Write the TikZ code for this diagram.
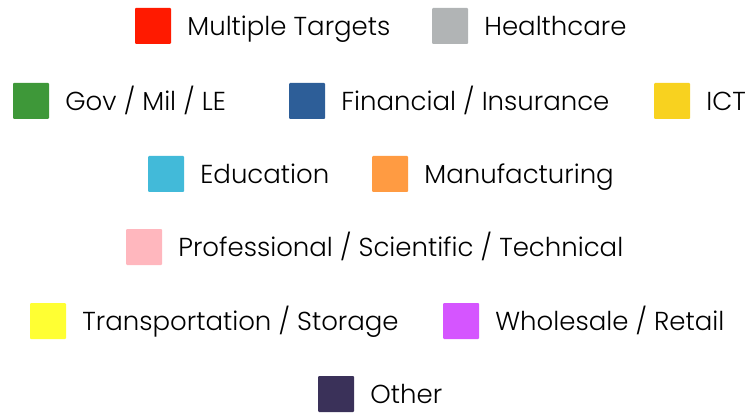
\documentclass[tikz,border=0pt]{standalone}
\usepackage{fontspec}
\setmainfont{Poppins Light}
\usetikzlibrary{positioning}
\definecolor{multi}{HTML}{FF1A00}
\definecolor{health}{HTML}{B1B4B5}
\definecolor{gov}{HTML}{3E9839}
\definecolor{fin}{HTML}{2D5E98}
\definecolor{ict}{HTML}{F8D21F}
\definecolor{edu}{HTML}{42BAD9}
\definecolor{manu}{HTML}{FF9B42}
\definecolor{prof}{HTML}{FFB7BE}
\definecolor{trans}{HTML}{FFFF33}
\definecolor{retail}{HTML}{D555FF}
\definecolor{other}{HTML}{3A3159}
\tikzset
{
    swatch/.style = {minimum size=36pt, inner sep=0pt, rounded corners=1pt},
    entry/.style  = {anchor=west, inner sep=0pt, text height=19pt, text depth=0pt,
                     font=\fontsize{26}{26}\selectfont, text=black}
}

\begin{document}
\begin{tikzpicture}[x=1pt, y=-1pt]
    \useasboundingbox (0,0) rectangle (752,414);
    % row 1
    \node [swatch, fill=multi] (multiple) at (153,26) {};
    \node [entry, right=16pt of multiple] (multiplelabel) {Multiple Targets};
    \node [swatch, fill=health] (health) at (450,26) {};
    \node [entry, right=16pt of health] (healthlabel) {Healthcare};
    % row 2
    \node [swatch, fill=gov] (gov) at (31,101) {};
    \node [entry, right=16pt of gov] (govlabel) {Gov / Mil / LE};
    \node [swatch, fill=fin] (fin) at (307,101) {};
    \node [entry, right=16pt of fin] (finlabel) {Financial / Insurance};
    \node [swatch, fill=ict] (ict) at (672,101) {};
    \node [entry, right=16pt of ict] (ictlabel) {ICT};
    % row 3
    \node [swatch, fill=edu] (edu) at (166,174) {};
    \node [entry, right=16pt of edu] (edulabel) {Education};
    \node [swatch, fill=manu] (manu) at (390,174) {};
    \node [entry, right=16pt of manu] (manulabel) {Manufacturing};
    % row 4
    \node [swatch, fill=prof] (prof) at (144,247) {};
    \node [entry, right=16pt of prof] (proflabel) {Professional / Scientific / Technical};
    % row 5
    \node [swatch, fill=trans] (trans) at (48,321) {};
    \node [entry, right=16pt of trans] (translabel) {Transportation / Storage};
    \node [swatch, fill=retail] (retail) at (461,321) {};
    \node [entry, right=16pt of retail] (retaillabel) {Wholesale / Retail};
    % row 6
    \node [swatch, fill=other] (other) at (336,394) {};
    \node [entry, right=16pt of other] (otherlabel) {Other};
\end{tikzpicture}
\end{document}
